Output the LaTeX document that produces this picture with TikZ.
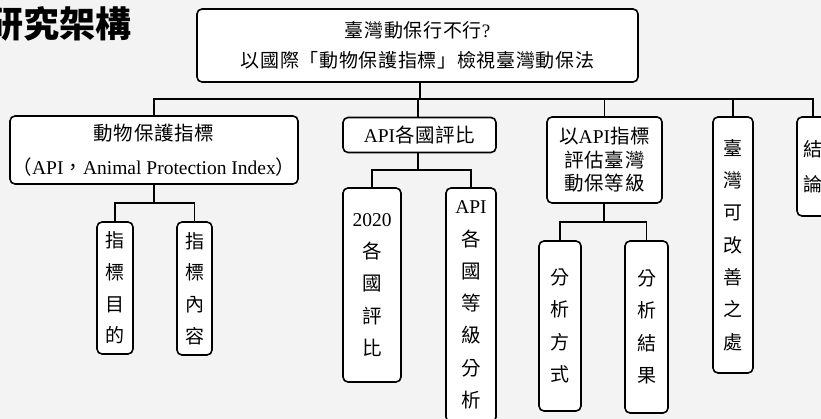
\documentclass[tikz,border=0pt]{standalone}
\usepackage{fontspec}
\setmainfont{Liberation Serif}
\newfontfamily\cjk{Noto Sans CJK TC}[LetterSpace=3.5,Scale=1.0]
\newfontfamily\cjktitle{Noto Sans CJK TC}
\newcommand\zh[1]{{\cjk #1}}
\definecolor{paper}{HTML}{F3F3F3}
\tikzset{
  box/.style={draw=black, line width=1.6pt, fill=white, rounded corners=5pt,
    inner sep=0pt, align=center},
  hbox/.style={box, font=\fontsize{19}{30}\selectfont},
  vbox/.style={box, font=\fontsize{19}{32.3}\selectfont},
  conn/.style={draw=black, line width=1.1pt}
}
\begin{document}
\begin{tikzpicture}[x=1pt,y=-1pt]
\fill[paper] (0,0) rectangle (821,419);
\useasboundingbox (0,0) rectangle (821,419);
% title
\node[anchor=east, inner sep=0pt, font=\cjktitle\bfseries\fontsize{36}{40}\selectfont] (title) at (132,24) {研究架構};
% top
\node[hbox, minimum width=441pt, minimum height=73pt] (top) at (417.5,45.5)
  {\zh{臺灣動保行不行}?\\\zh{以國際「動物保護指標」檢視臺灣動保法}};
% level 1
\node[hbox, minimum width=288pt, minimum height=68pt, font=\fontsize{19.5}{34}\selectfont] (b1) at (154,150)
  {\zh{動物保護指標}\\\zh{（}API\zh{，}Animal Protection Index\zh{）}};
\node[hbox, minimum width=153pt, minimum height=35pt, font=\fontsize{19.5}{30}\selectfont] (b2) at (419.5,135) {API\zh{各國評比}};
\node[hbox, minimum width=115pt, minimum height=86pt, font=\fontsize{19.5}{23.5}\selectfont] (b3) at (604.5,160)
  {\zh{以}API\zh{指標}\\\zh{評估臺灣}\\\zh{動保等級}};
\node[vbox, minimum width=40pt, minimum height=256pt] (b4) at (733,245)
  {\zh{臺}\\\zh{灣}\\\zh{可}\\\zh{改}\\\zh{善}\\\zh{之}\\\zh{處}};
\node[vbox, minimum width=32pt, minimum height=99pt, font=\fontsize{19}{35}\selectfont] (b5) at (813,166.5)
  {\zh{結}\\\zh{論}};
% level 2
\node[vbox, minimum width=36pt, minimum height=132pt, font=\fontsize{19}{31.7}\selectfont] (b1a) at (115,288)
  {\zh{指}\\\zh{標}\\\zh{目}\\\zh{的}};
\node[vbox, minimum width=35pt, minimum height=133pt, font=\fontsize{19}{31.7}\selectfont] (b1b) at (194.5,288.5)
  {\zh{指}\\\zh{標}\\\zh{內}\\\zh{容}};
\node[vbox, minimum width=58pt, minimum height=194pt, font=\fontsize{19.5}{32.3}\selectfont] (b2a) at (372,285)
  {2020\\\zh{各}\\\zh{國}\\\zh{評}\\\zh{比}};
\node[vbox, minimum width=50pt, minimum height=234pt, font=\fontsize{19.5}{32.3}\selectfont] (b2b) at (471,305)
  {API\\\zh{各}\\\zh{國}\\\zh{等}\\\zh{級}\\\zh{分}\\\zh{析}};
\node[vbox, minimum width=42pt, minimum height=170pt] (b3a) at (560,326)
  {\zh{分}\\\zh{析}\\\zh{方}\\\zh{式}};
\node[vbox, minimum width=43pt, minimum height=172pt] (b3b) at (646.5,327)
  {\zh{分}\\\zh{析}\\\zh{結}\\\zh{果}};
% connectors
\coordinate (bus) at (420,99);
\coordinate (j1) at (154,203);
\coordinate (j2) at (418,170);
\coordinate (j3) at (604,222);
\draw[conn] (top.south -| bus) -- (bus);
\draw[conn] (b1.north) -- (b1.north |- bus) -- (b5.north |- bus) -- (b5.north);
\draw[conn] (b2.north -| j2) -- (j2 |- bus);
\draw[conn] (b3.north) -- (b3.north |- bus);
\draw[conn] (b4.north) -- (b4.north |- bus);
\draw[conn] (b1.south) -- (j1);
\draw[conn] (b1a.north) |- (j1) -| (b1b.north);
\draw[conn] (b2.south -| j2) -- (j2);
\draw[conn] (b2a.north) |- (j2) -| (b2b.north);
\draw[conn] (b3.south -| j3) -- (j3);
\draw[conn] (b3a.north) |- (j3) -| (b3b.north);
\end{tikzpicture}
\end{document}
